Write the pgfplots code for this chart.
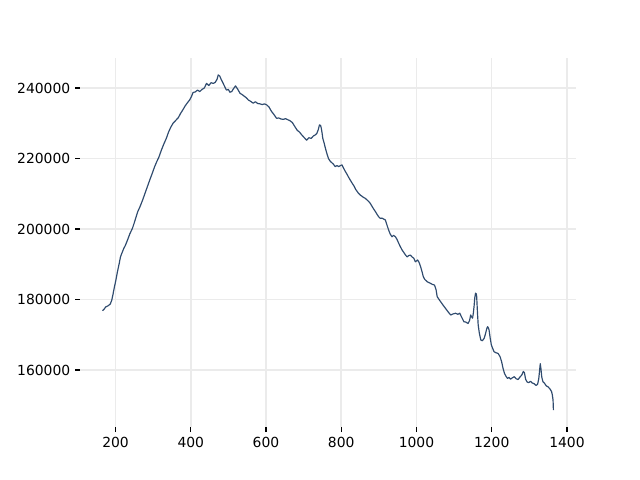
\documentclass[border=0pt]{standalone}
\usepackage{pgfplots}
\pgfplotsset{compat=1.18}
\usepackage{fontspec}
\setmainfont{DejaVu Sans}
\definecolor{linec}{HTML}{2F4B6E}
\definecolor{gridc}{HTML}{EBEBEB}
\begin{document}
\begin{tikzpicture}
\path[use as bounding box] (0pt,0pt) rectangle (460.8pt,345.6pt);
\begin{axis}[
  at={(57.6pt,38.016pt)}, anchor=south west,
  width=357.12pt, height=266.11pt, scale only axis,
  xmin=105.6, xmax=1424, ymin=143773, ymax=248624,
  axis x line*=bottom, axis y line*=left,
  axis line style={draw=none},
  tick align=outside,
  major tick length=3.5pt,
  every tick/.style={black, line width=0.8pt},
  xtick={200,400,...,1400},
  ytick={160000,180000,...,240000},
  grid=major,
  major grid style={gridc, line width=1.1pt},
  ticklabel style={font=\fontsize{10}{12}\selectfont},
  /pgf/number format/assume math mode=true,
  /pgf/number format/fixed,
  /pgf/number format/precision=0,
  /pgf/number format/1000 sep={},
  scaled y ticks=false,
  scaled x ticks=false,
  xticklabel style={yshift=-0.5pt},
]
\addplot[linec, line width=0.85pt, no marks, line join=round] table {
165.5 176800
170 177300
174 177900
180 178200
186 178700
190 179800
193 181300
197 183500
201 185500
205 187800
210 190300
213 192000
216 192900
222 194500
226 195300
232 196900
238 198600
245 200200
250 201800
254 203200
259 204900
265 206300
272 208200
279 210300
284 211800
291 213900
297 215600
304 217700
310 219200
315 220300
322 222400
328 224000
335 225700
341 227500
347 228900
353 230000
360 230800
367 231600
373 232800
379 233800
385 234900
391 235800
397 236600
402 237600
406 238700
412 238900
418 239400
424 239000
430 239600
436 240000
442 241300
448 240700
454 241500
460 241300
465 241600
470 242500
473 243700
477 243400
481 242400
484 241800
488 240900
492 240000
495 239400
500 239600
504 238800
509 239000
513 239700
519 240600
524 239800
531 238500
537 238100
543 237600
548 237200
553 236600
558 236300
566 235700
572 236100
578 235600
584 235500
590 235300
596 235500
602 235200
608 234600
615 233300
621 232500
628 231400
634 231500
640 231200
646 231100
652 231300
658 231000
664 230700
670 230200
677 229000
683 228000
689 227500
695 226700
701 226000
708 225200
714 225900
720 225700
726 226400
731 226700
735 227100
739 228200
742 229500
745 229400
747 228600
749 227300
751 225700
754 224600
757 223300
761 221700
766 220000
771 219200
775 218800
779 218400
784 217700
789 218000
793 217700
798 218000
802 218200
806 217300
811 216300
816 215400
820 214600
825 213700
829 213000
834 212200
838 211300
842 210700
846 210100
851 209600
855 209300
860 208900
864 208700
868 208300
873 207800
877 207300
882 206400
886 205700
891 204900
895 204200
900 203400
904 203000
908 203100
913 202800
917 202600
921 201300
926 199700
930 198600
935 197800
939 198200
944 197800
948 197100
953 195900
957 195000
962 194000
966 193400
971 192600
975 192100
980 192500
984 192600
988 192100
993 191700
997 190700
1003 191200
1007 190500
1011 189300
1015 187800
1018 186500
1022 185700
1029 185000
1033 184800
1037 184600
1042 184300
1048 184100
1052 182800
1055 180800
1060 180000
1064 179400
1070 178500
1077 177500
1084 176500
1091 175600
1097 175900
1104 176100
1110 175800
1115 176100
1120 175000
1126 173700
1131 173600
1137 173200
1141 174000
1144 175600
1147 175000
1149 174700
1151 176000
1153 178000
1155 180500
1157 181800
1159 181600
1160 180800
1162 176500
1164 172800
1167 170500
1171 168500
1175 168300
1180 169000
1184 170500
1187 171800
1189 172300
1191 172000
1193 171300
1196 169000
1199 167100
1203 166000
1206 165200
1211 164900
1217 164700
1222 163800
1226 162500
1230 160500
1234 159000
1238 158200
1242 157600
1246 157900
1250 157400
1255 157800
1260 158100
1265 157500
1270 157300
1275 158000
1280 158600
1284 159600
1287 159200
1290 157400
1294 156600
1298 156400
1303 156800
1308 156300
1313 156100
1318 155600
1322 156000
1325 157500
1327 159600
1329 161800
1331 160200
1333 158000
1336 156700
1340 156300
1345 155500
1350 155200
1355 154600
1359 153900
1361 153000
1363 151500
1364 148600
};
\end{axis}
\end{tikzpicture}
\end{document}
